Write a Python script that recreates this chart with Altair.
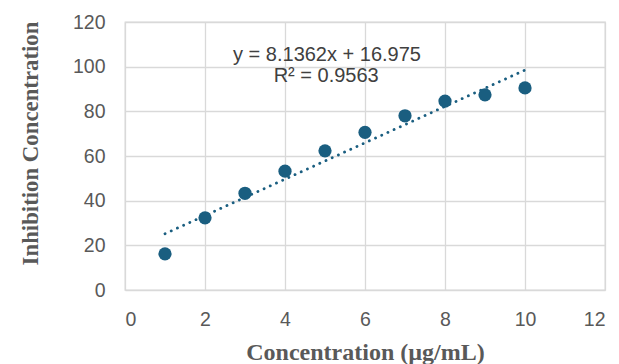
import altair as alt
import pandas as pd

conc = [1, 2, 3, 4, 5, 6, 7, 8, 9, 10]
inhibition = [16.2, 32.3, 43.3, 53.2, 62.3, 70.6, 78.0, 84.6, 87.4, 90.5]

eq_text = ["y = 8.1362x + 16.975", "R\u00b2 = 0.9563"]
eq_x = [5.05, 5.03]
eq_y = [105.4, 95.8]

df = pd.DataFrame({"x": conc, "y": inhibition})
ann = pd.DataFrame({"x": eq_x, "y": eq_y, "t": eq_text})

color = "#1A5E80"
grey = "#595959"

xs = alt.Scale(domain=[0, 12], nice=False)
ys = alt.Scale(domain=[0, 120], nice=False)

xax = alt.Axis(values=[0, 2, 4, 6, 8, 10, 12], title="Concentration (\u00b5g/mL)",
               labelFont="Liberation Sans", labelFontSize=19.5, labelColor=grey,
               labelPadding=20, tickSize=0, domain=False,
               titleFont="Liberation Serif", titleFontSize=24, titleFontWeight="bold",
               titleColor=grey, titlePadding=12, gridColor="#D9D9D9", gridWidth=1.3)
yax = alt.Axis(values=[0, 20, 40, 60, 80, 100, 120], title="Inhibition Concentration",
               labelFont="Liberation Sans", labelFontSize=19.5, labelColor=grey,
               labelPadding=20, tickSize=0, domain=False,
               titleFont="Liberation Serif", titleFontSize=22.8, titleFontWeight="bold",
               titleColor=grey, titlePadding=30, titleY=121,
               gridColor="#D9D9D9", gridWidth=1.3)

pts = alt.Chart(df).mark_circle(size=175, opacity=1, color=color).encode(
    x=alt.X("x:Q", scale=xs, axis=xax),
    y=alt.Y("y:Q", scale=ys, axis=yax),
)

trend = alt.Chart(df).transform_regression("x", "y", method="linear", extent=[1, 10]).mark_line(
    color=color, strokeWidth=2.8, strokeDash=[0.1, 6.7], strokeCap="round"
).encode(x=alt.X("x:Q", scale=xs), y=alt.Y("y:Q", scale=ys))

text = alt.Chart(ann).mark_text(font="Liberation Sans", fontSize=20, color="#404040",
                                baseline="middle").encode(
    x=alt.X("x:Q", scale=xs), y=alt.Y("y:Q", scale=ys), text="t:N"
)

chart = alt.layer(trend, pts, text).properties(
    width=480, height=268,
    autosize=alt.AutoSizeParams(type="none"),
    padding={"left": 125, "top": 22, "right": 14, "bottom": 74},
    background="white",
).configure_view(stroke="#D9D9D9", strokeWidth=1.3)

chart.save("out.html", embed_options={"renderer": "svg", "actions": False})
